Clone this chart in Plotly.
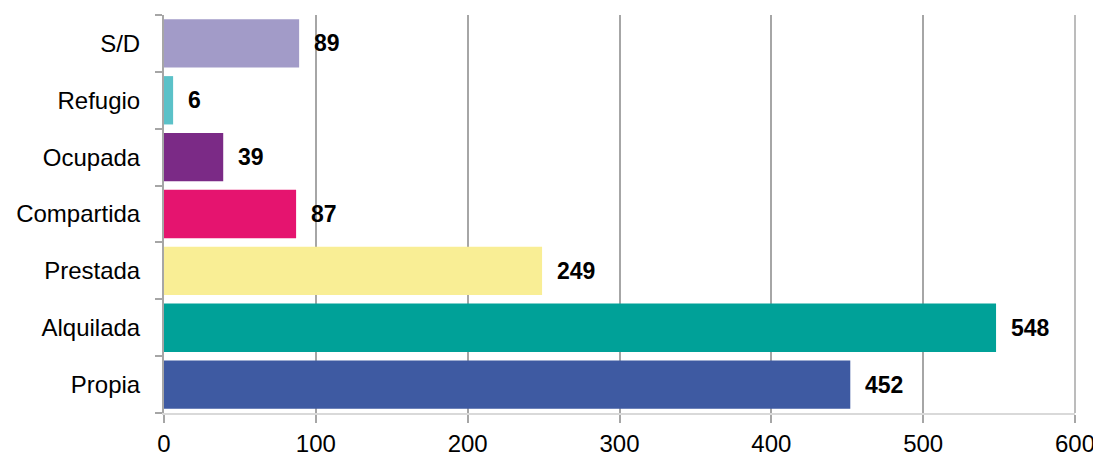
"""tenencia de vivienda - barras horizontales"""

import plotly.graph_objects as go

# datos
categorias = ["Propia", "Alquilada", "Prestada", "Compartida", "Ocupada", "Refugio", "S/D"]
valores = [452, 548, 249, 87, 39, 6, 89]
colores = ["#3E5AA2", "#00A198", "#F9EE95", "#E5146F", "#7B2A86", "#5BC1C8", "#A29BC8"]
ticks_x = [0, 100, 200, 300, 400, 500, 600]

fig = go.Figure()
fig.add_trace(go.Bar(
    y=categorias, x=valores, orientation="h",
    marker=dict(color=colores, line=dict(width=0)),
    width=0.85,
    hoverinfo="skip",
))

# etiquetas de valor
for c, v in zip(categorias, valores):
    fig.add_annotation(
        x=v, y=c, text="<b>%d</b>" % v, showarrow=False,
        xanchor="left", xshift=13, yshift=0,
        font=dict(size=23, color="black", family="Liberation Sans"),
    )

# linea de la cuadricula en el borde derecho (plotly no la dibuja)
fig.add_shape(type="line", xref="paper", yref="paper", x0=1, x1=1, y0=0, y1=1,
              line=dict(color="#A6A6A6", width=1.5), layer="below")

# la pagina tiene un margen de 8 px alrededor del grafico
fig.update_layout(
    width=1093, height=448,
    margin=dict(l=156, r=26, t=7, b=43),
    plot_bgcolor="white", paper_bgcolor="white",
    showlegend=False,
    font=dict(family="Liberation Sans", size=23, color="black"),
    bargap=0.15,
)
fig.update_xaxes(
    range=[0, 600], tickvals=ticks_x, automargin=False,
    showgrid=True, gridcolor="#A6A6A6", gridwidth=1.5,
    ticks="outside", ticklen=8, tickcolor="#A6A6A6", tickwidth=1.5,
    showline=True, linecolor="#D9D9D9", linewidth=1.5,
    zeroline=False, tickfont=dict(size=24),
)
fig.update_yaxes(
    categoryorder="array", categoryarray=categorias, automargin=False,
    tickson="boundaries", ticks="outside", ticklen=7,
    tickcolor="#A6A6A6", tickwidth=1.5,
    showline=True, linecolor="#A6A6A6", linewidth=2,
    showgrid=False, ticklabelstandoff=17,
    tickfont=dict(size=24),
)

fig.write_html("out.html")
